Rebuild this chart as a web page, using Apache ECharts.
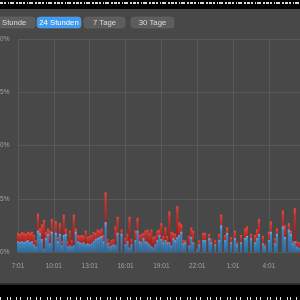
<!DOCTYPE html>
<html><head><meta charset="utf-8">
<script src="https://cdn.jsdelivr.net/npm/echarts@6/dist/echarts.min.js"></script>
<style>html,body{margin:0;padding:0;background:#484848;overflow:hidden}#c{width:300px;height:300px}</style>
</head><body><div id="c"></div>
<script>
// sample spacing (minutes) and axis start
const stepMinutes = 10;
const startHour = 7;
const startMinute = 1;
// CPU load per sample, percent: blue (user) and red (system) segments
const userLoad = [1.0,0.9,1.0,0.9,1.0,1.1,0.9,1.0,0.7,0.5,2.0,1.8,1.2,0.3,1.3,1.7,0.8,1.9,0,1.8,
  1.0,1.7,0.6,1.6,1.7,0.5,0.6,0.5,0.6,1.9,1.0,0.9,0.8,0.9,0.7,0.8,0.7,0.8,1.0,1.2,
  1.3,1.4,1.5,1.0,2.8,0.8,0.5,0.6,0.7,0.6,1.8,0,1.7,0,0.7,1.0,0.4,0.7,0,1.1,
  2.0,1.0,0.9,1.3,1.0,0.9,0.7,0.5,0.4,0.7,1.1,1.6,1.2,0.9,1.1,0.9,0.9,0.6,1.3,1.1,
  1.4,1.6,1.9,0.8,0.9,0,0.6,1.4,0.9,0,0.2,0.7,0,1.1,1.1,0,1.3,0.9,0,0.7,
  0,1.1,2.5,0,1.1,1.8,0,0.9,0,1.3,0.7,0,0.9,0,1.3,1.5,0,1.3,0,0.9,
  1.3,1.7,0,0.8,0.5,0,1.1,1.9,0,0.8,1.7,0,0,2.4,1.4,0,2.1,1.7,0.8,1.0,
  0.5,0.4];
const systemLoad = [0.8,0.8,0.9,0.9,0.7,0.8,0.9,0.9,0.9,0.6,1.6,0.4,1.4,2.7,0.6,0.5,1.2,1.2,0,1.1,
  0.4,1.0,0.4,1.9,0.5,0.5,1.4,0.6,2.9,0.3,0.6,0.6,0.8,0.6,1.3,0.6,0.8,0.8,0.9,0.6,
  0.8,0.6,0.7,0.6,2.8,0.4,0.4,0.5,0.5,1.8,1.5,0,0.4,0,0.6,0.7,2.9,0.5,0,0.9,
  1.2,0.6,0.8,0.5,1.0,1.2,1.1,1.6,1.0,0.8,0.9,0.5,1.5,0.6,1.2,0.6,2.9,1.3,0.5,0.6,
  2.9,1.2,0.7,0.3,0.2,0,0.9,0.9,1.1,0,0.1,0.4,0,0.7,0.7,0,0.4,0.3,0,0.4,
  0,0.6,1.0,0,0.5,0.5,0,0.5,0,0.7,0.2,0,0.7,0,0.9,0.9,0,0.4,0,0.7,
  0.8,1.4,0,0.7,0.2,0,0.8,0.95,0,0.5,0.5,0,0,1.5,1.1,0,0.6,0.3,0.2,3.1,
  0.5,0.5];
const yTicks = [0,5,10,15,20];
const rangeButtons = ['1 Stunde','24 Stunden','7 Tage','30 Tage'];
const activeButton = '24 Stunden';

const userPairs = userLoad.map((v,i)=>[i*stepMinutes, v]);
const totalPairs = userLoad.map((v,i)=>[i*stepMinutes, +(v + systemLoad[i]).toFixed(2)]);
const fmtTime = v => {
  const t = startHour*60 + startMinute + v;
  const h = Math.floor(t/60) % 24, m = t % 60;
  return h + ':' + String(m).padStart(2,'0');
};

const btnGeom = [[-13,48],[37,44],[84,41],[131,43]];
const graphic = [
  {type:'rect', shape:{x:0,y:0,width:300,height:9}, style:{fill:'#000'}},
  {type:'line', shape:{x1:0,y1:3,x2:300,y2:3}, style:{stroke:'#d8d8d8',lineWidth:2,lineDash:[3,1,2,2,1,1,4,2,2,1]}},
  {type:'rect', shape:{x:0,y:283,width:300,height:2}, style:{fill:'#2c2c2c'}},
  {type:'rect', shape:{x:0,y:285,width:300,height:15}, style:{fill:'#000'}},
  {type:'line', shape:{x1:0,y1:298.5,x2:300,y2:298.5}, style:{stroke:'#e0e0e0',lineWidth:3,lineDash:[1,6,1,2,1,5,1,3]}}
];
rangeButtons.forEach((t,k)=>{
  const [x,w] = btnGeom[k];
  const on = t === activeButton;
  graphic.push({type:'rect', shape:{x:x,y:17,width:w,height:11,r:3},
    style:{fill: on ? '#3f9af0' : '#5d5d5d', stroke: on ? '#5aaaf2' : '#686868', lineWidth:0.5}});
  graphic.push({type:'text', x:x+w/2, y:22.6, style:{text:t, fill: on ? '#ffffff' : '#dcdcdc',
    font:'7.7px "Liberation Sans", Arial, sans-serif', align:'center', verticalAlign:'middle'}});
});

const chart = echarts.init(document.getElementById('c'), null, {renderer:'canvas'});
chart.setOption({
  backgroundColor:'#484848',
  animation:false,
  textStyle:{fontFamily:'"Liberation Sans", Arial, sans-serif'},
  graphic: graphic,
  grid:{left:18, right:0, top:39, bottom:48, containLabel:false, outerBoundsMode:'none'},
  xAxis:{type:'value', min:0, max:1416, interval:180,
    axisLine:{show:false}, axisTick:{show:false},
    splitLine:{show:true, lineStyle:{color:'#595959', width:1}},
    axisLabel:{formatter:fmtTime, color:'#a2a2a2', fontSize:6.5, margin:11, showMaxLabel:false}},
  yAxis:{type:'value', min:yTicks[0], max:yTicks[yTicks.length-1], interval:5,
    axisLine:{show:false}, axisTick:{show:false},
    splitLine:{show:true, lineStyle:{color:'#595959', width:1}},
    axisLabel:{formatter:'{value}%', color:'#a2a2a2', fontSize:6.5, margin:8.5}},
  series:[
    {name:'System', type:'bar', barWidth:2.1, barGap:'-100%', data:totalPairs,
      itemStyle:{color:{type:'linear',x:0,y:0,x2:0,y2:1,colorStops:[
        {offset:0,color:'#ee4a3e'},{offset:0.15,color:'#cc332c'},{offset:0.5,color:'#a02424'},{offset:1,color:'#8c1f1f'}]}}},
    {name:'User', type:'bar', barWidth:2.1, barGap:'-100%', data:userPairs,
      itemStyle:{color:{type:'linear',x:0,y:0,x2:0,y2:1,colorStops:[
        {offset:0,color:'#62b3ee'},{offset:0.18,color:'#3d85bc'},{offset:1,color:'#2c6b9d'}]}}}
  ]
});
</script></body></html>
